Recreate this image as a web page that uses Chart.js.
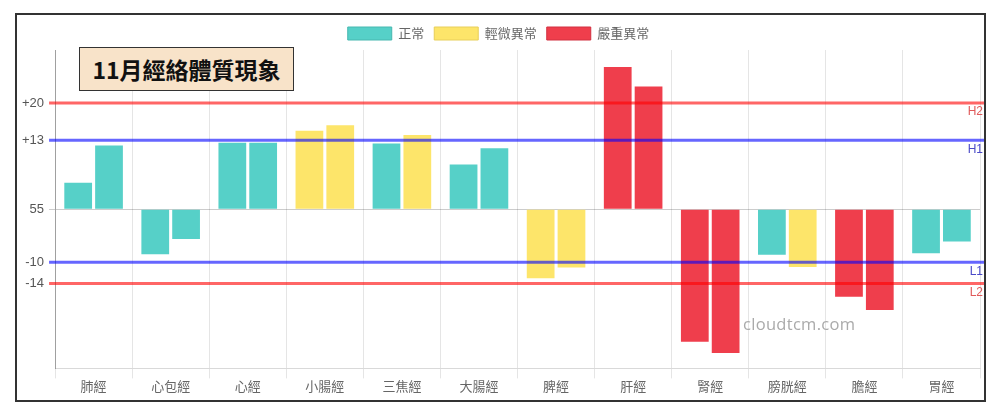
<!DOCTYPE html>
<html>
<head>
<meta charset="utf-8">
<script src="https://cdn.jsdelivr.net/npm/chart.js@4.4.1/dist/chart.umd.min.js"></script>
<style>
    body { margin: 0; background: #fff; font-family: "Noto Sans CJK TC", "Liberation Sans", sans-serif; }
    #frame { position: absolute; left: 15px; top: 13px; width: 967px; height: 385px; border: 2px solid #333; }
    #frame canvas { display: block; }
    #title {
        position: absolute; left: 79px; top: 47px; width: 213px; height: 42px;
        background: #f8e3c9; border: 1.5px solid #333;
        font: bold 23px "Noto Sans CJK TC", sans-serif; color: #111;
        display: flex; align-items: center; justify-content: center;
    }
    #mark { position: absolute; left: 743px; top: 312px; font: 16.5px "Open Sans", sans-serif; color: #aaa; letter-spacing: 0.3px; }
</style>
</head>
<body>
<div id="frame"><canvas id="meridianChart" width="967" height="385"></canvas></div>
<div id="title">11月經絡體質現象</div>
<div id="mark">cloudtcm.com</div>
<script>
const categories = ['肺經', '心包經', '心經', '小腸經', '三焦經', '大腸經', '脾經', '肝經', '腎經', '膀胱經', '膽經', '胃經'];
const leftValues = [5, -8.5, 12.5, 14.8, 12.4, 8.4, -13, 26.8, -25, -8.6, -16.5, -8.3];
const rightValues = [12, -5.6, 12.5, 15.8, 14, 11.5, -11, 23.1, -27.1, -10.9, -19, -6.1];
const yTickValues = [20, 13, 0, -10, -14];
const yTickLabels = ['+20', '+13', '55', '-10', '-14'];
const legendLabels = ['正常', '輕微異常', '嚴重異常'];

// threshold lines: H2/H1 above, L1/L2 below
const thresholds = [
    { value: 20, label: 'H2', color: 'rgba(255, 0, 0, 0.6)', text: '#e05a5a' },
    { value: 13, label: 'H1', color: 'rgba(0, 0, 255, 0.6)', text: '#4a4ac8' },
    { value: -10, label: 'L1', color: 'rgba(0, 0, 255, 0.6)', text: '#4a4ac8' },
    { value: -14, label: 'L2', color: 'rgba(255, 0, 0, 0.6)', text: '#e05a5a' }
];

const COLORS = {
    normal: '#56d0c8',
    light: '#fde56a',
    severe: '#ef3e4c'
};
const BORDERS = {
    normal: '#46b8b0',
    light: '#e8cf5a',
    severe: '#d23040'
};

function levelOf(v) {
    if (v > 20 || v < -14) return 'severe';
    if (v > 13 || v < -10) return 'light';
    return 'normal';
}

const thresholdPlugin = {
    id: 'thresholdLines',
    afterDatasetsDraw(chart) {
        const { ctx, chartArea, scales } = chart;
        ctx.save();
        thresholds.forEach(th => {
            const y = scales.y.getPixelForValue(th.value);
            ctx.strokeStyle = th.color;
            ctx.lineWidth = 3;
            ctx.beginPath();
            ctx.moveTo(chartArea.left - 6, y);
            ctx.lineTo(chart.width, y);
            ctx.stroke();
            ctx.fillStyle = th.text;
            ctx.font = '12px "Liberation Sans", sans-serif';
            ctx.textAlign = 'right';
            ctx.textBaseline = 'top';
            ctx.fillText(th.label, chart.width - 1, y + 3);
        });
        ctx.restore();
    }
};

const ctx = document.getElementById('meridianChart').getContext('2d');
new Chart(ctx, {
    type: 'bar',
    data: {
        labels: categories,
        datasets: [leftValues, rightValues].map(values => ({
            data: values,
            backgroundColor: values.map(v => COLORS[levelOf(v)]),
            borderWidth: 0
        }))
    },
    options: {
        responsive: false,
        animation: false,
        layout: { padding: { left: 0, right: 4, top: 2, bottom: 6 } },
        plugins: {
            legend: {
                position: 'top',
                labels: {
                    boxWidth: 44,
                    boxHeight: 13,
                    color: '#666',
                    font: { size: 13, family: '"Noto Sans CJK TC", sans-serif' },
                    generateLabels: () => ['normal', 'light', 'severe'].map((key, i) => ({
                        text: legendLabels[i],
                        fillStyle: COLORS[key],
                        strokeStyle: BORDERS[key],
                        lineWidth: 1,
                        fontColor: '#666',
                        hidden: false
                    }))
                },
                onClick: null
            },
            tooltip: { enabled: false }
        },
        scales: {
            x: {
                grid: { color: 'rgba(0, 0, 0, 0.1)', tickLength: 10 },
                border: { color: 'rgba(0, 0, 0, 0.15)' },
                ticks: { color: '#666', font: { size: 13, family: '"Noto Sans CJK TC", sans-serif' }, padding: 0 }
            },
            y: {
                min: -30,
                max: 30,
                afterBuildTicks: axis => { axis.ticks = yTickValues.map(v => ({ value: v })); },
                grid: {
                    color: c => (c.tick && c.tick.value === 0 ? 'rgba(0, 0, 0, 0.2)' : 'rgba(0, 0, 0, 0)'),
                    tickLength: 6
                },
                border: { color: 'rgba(0, 0, 0, 0.3)' },
                ticks: {
                    color: '#555',
                    font: { size: 13, family: '"Liberation Sans", sans-serif' },
                    padding: 5,
                    callback: v => yTickLabels[yTickValues.indexOf(v)]
                }
            }
        }
    },
    plugins: [thresholdPlugin]
});
</script>
</body>
</html>
